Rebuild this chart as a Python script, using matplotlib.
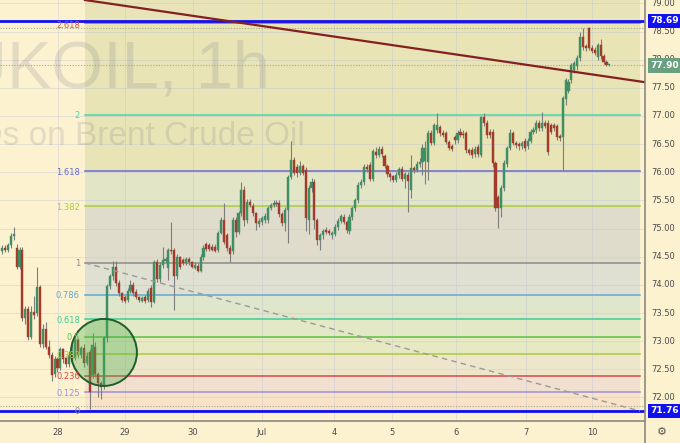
import numpy as np
import matplotlib
matplotlib.use("Agg")
import matplotlib.pyplot as plt
from matplotlib.patches import Ellipse
from matplotlib.lines import Line2D

plt.rcParams["font.family"] = ["DejaVu Sans"]

# hourly candles, UKOIL
opens = [74.60, 74.66, 74.62, 74.70, 74.86, 74.66, 74.32, 74.62, 73.42, 73.58,
         73.08, 73.52, 73.50, 73.96, 72.95, 73.22, 72.90, 72.76, 72.42, 72.68,
         72.52, 72.86, 72.70, 72.60, 72.76, 72.70, 73.02, 72.76, 72.88, 72.62,
         72.80, 72.40, 72.90, 72.42, 72.26, 72.20, 73.05, 73.98, 74.15, 74.32,
         74.03, 73.86, 73.78, 73.74, 73.90, 74.00, 73.88, 73.78, 73.72, 73.78,
         73.73, 73.95, 73.70, 74.41, 74.10, 74.35, 74.42, 74.30, 74.62, 74.62,
         74.15, 74.50, 74.45, 74.38, 74.46, 74.40, 74.30, 74.34, 74.25, 74.50,
         74.73, 74.70, 74.68, 74.68, 74.62, 74.92, 75.15, 74.88, 74.66, 74.60,
         75.15, 74.94, 75.27, 75.69, 75.15, 75.48, 75.40, 75.28, 75.08, 75.12,
         75.16, 75.15, 75.37, 75.42, 75.46, 75.46, 75.26, 75.10, 75.33, 75.92,
         76.22, 76.10, 75.99, 76.11, 76.04, 75.15, 75.72, 75.83, 75.15, 74.80,
         74.88, 74.98, 74.96, 74.88, 74.90, 75.03, 75.14, 75.20, 75.12, 74.95,
         75.20, 75.36, 75.51, 75.78, 75.83, 76.10, 76.13, 75.88, 76.36, 76.30,
         76.42, 76.29, 76.12, 75.97, 75.93, 75.87, 75.96, 76.06, 75.88, 75.95,
         75.69, 76.08, 76.04, 76.15, 76.18, 76.20, 76.18, 76.70, 76.52, 76.75,
         76.80, 76.70, 76.70, 76.54, 76.46, 76.62, 76.57, 76.72, 76.68, 76.70,
         76.40, 76.40, 76.32, 76.45, 76.30, 76.98, 76.88, 76.72, 76.72, 76.17,
         75.56, 75.37, 75.72, 76.15, 76.43, 76.70, 76.52, 76.50, 76.46, 76.55,
         76.46, 76.56, 76.72, 76.75, 76.88, 76.78, 76.88, 76.88, 76.84, 76.84,
         76.82, 76.64, 76.62, 77.30, 77.45, 77.64, 77.82, 77.88, 78.03, 78.40,
         78.24, 78.56, 78.21, 78.18, 78.05, 78.26, 78.06, 77.96, 77.90]
highs = [74.70, 74.70, 74.74, 74.92, 75.03, 74.72, 74.68, 74.68, 73.62, 73.62,
         73.62, 73.80, 74.32, 74.00, 73.30, 73.34, 73.02, 72.80, 72.74, 72.72,
         72.90, 72.88, 72.74, 72.82, 72.95, 73.08, 73.05, 72.92, 72.95, 72.80,
         72.86, 73.14, 72.98, 72.46, 72.30, 73.10, 74.02, 74.20, 74.42, 74.42,
         74.08, 73.88, 73.82, 73.95, 74.08, 74.05, 73.92, 73.80, 73.80, 73.82,
         73.95, 74.00, 74.45, 74.46, 74.40, 74.67, 74.50, 74.65, 75.12, 74.66,
         74.55, 74.52, 74.48, 74.50, 74.50, 74.42, 74.40, 74.38, 74.55, 74.70,
         74.76, 74.74, 74.72, 74.72, 74.96, 75.20, 75.45, 74.92, 74.70, 75.20,
         75.20, 75.32, 75.82, 75.75, 75.52, 75.52, 75.45, 75.30, 75.18, 75.22,
         75.28, 75.40, 75.46, 75.50, 75.50, 75.50, 75.30, 75.38, 75.96, 76.55,
         76.28, 76.15, 76.20, 76.15, 76.10, 75.78, 75.90, 75.88, 75.18, 74.92,
         75.00, 75.02, 75.00, 74.95, 75.08, 75.18, 75.26, 75.25, 75.15, 75.25,
         75.40, 75.55, 75.82, 75.88, 76.15, 76.15, 76.18, 76.42, 76.45, 76.46,
         76.46, 76.32, 76.15, 76.00, 75.96, 76.00, 76.10, 76.12, 76.00, 76.00,
         76.30, 76.12, 76.20, 76.25, 76.50, 76.55, 76.75, 76.75, 76.88, 77.05,
         76.84, 76.75, 76.74, 76.58, 76.50, 76.66, 76.75, 76.78, 76.75, 76.74,
         76.44, 76.45, 76.46, 76.50, 77.00, 77.05, 76.92, 76.76, 76.76, 76.20,
         75.60, 75.78, 76.22, 76.46, 76.76, 76.74, 76.56, 76.54, 76.56, 76.60,
         76.60, 76.76, 76.80, 76.92, 76.92, 77.07, 76.92, 76.92, 76.88, 76.88,
         76.86, 76.68, 77.36, 77.68, 77.65, 77.94, 77.98, 78.08, 78.50, 78.56,
         78.28, 78.58, 78.26, 78.22, 78.30, 78.36, 78.10, 78.00, 77.92]
lows = [74.55, 74.58, 74.58, 74.66, 74.80, 74.28, 74.28, 73.36, 73.30, 73.02,
        73.04, 73.40, 73.45, 72.90, 72.88, 72.86, 72.70, 72.30, 72.36, 72.46,
        72.48, 72.62, 72.55, 72.55, 72.62, 72.66, 72.70, 72.70, 72.55, 72.58,
        71.80, 72.35, 72.36, 72.00, 71.98, 72.15, 72.98, 73.92, 74.08, 73.98,
        73.80, 73.70, 73.68, 73.70, 73.86, 73.80, 73.75, 73.70, 73.70, 73.68,
        73.70, 73.61, 73.68, 74.05, 74.05, 74.30, 74.40, 74.08, 74.55, 73.55,
        74.10, 74.28, 74.35, 74.35, 74.36, 74.30, 74.28, 74.22, 74.22, 74.45,
        74.60, 74.60, 74.60, 74.58, 74.58, 74.90, 74.72, 74.60, 74.40, 74.55,
        74.85, 74.90, 75.22, 75.05, 75.10, 75.38, 75.22, 74.98, 75.02, 75.06,
        75.10, 75.10, 75.33, 75.38, 75.40, 75.20, 75.05, 74.95, 74.75, 75.88,
        75.95, 75.92, 75.95, 75.95, 74.95, 74.90, 75.65, 75.00, 74.70, 74.62,
        74.82, 74.90, 74.88, 74.82, 74.86, 74.98, 75.10, 75.08, 74.92, 74.90,
        75.15, 75.32, 75.45, 75.72, 75.78, 76.00, 75.84, 75.85, 76.26, 76.27,
        76.28, 76.08, 75.92, 75.85, 75.82, 75.82, 75.90, 75.85, 75.72, 75.29,
        75.55, 75.98, 76.00, 76.10, 75.95, 75.80, 75.86, 76.48, 76.48, 76.70,
        76.65, 76.62, 76.50, 76.40, 76.38, 76.50, 76.52, 76.62, 76.60, 76.35,
        76.30, 76.25, 76.28, 76.28, 76.28, 76.82, 76.60, 76.60, 76.10, 75.32,
        75.01, 75.20, 75.66, 76.10, 76.40, 76.48, 76.44, 76.40, 76.42, 76.38,
        76.42, 76.52, 76.68, 76.70, 76.74, 76.74, 76.78, 76.30, 76.68, 76.74,
        76.58, 76.56, 76.04, 77.20, 77.40, 77.58, 77.76, 77.82, 77.98, 78.18,
        78.16, 78.18, 78.12, 78.08, 78.00, 78.02, 77.93, 77.88, 77.88]
closes = [74.66, 74.62, 74.70, 74.86, 74.90, 74.32, 74.62, 73.42, 73.58, 73.08,
          73.52, 73.46, 73.96, 72.95, 73.22, 72.90, 72.76, 72.40, 72.68, 72.52,
          72.86, 72.68, 72.60, 72.76, 72.68, 73.02, 72.76, 72.88, 72.62, 72.74,
          72.10, 72.93, 72.42, 72.26, 72.18, 73.05, 73.98, 74.15, 74.32, 74.03,
          73.86, 73.74, 73.72, 73.90, 74.00, 73.85, 73.78, 73.73, 73.76, 73.72,
          73.90, 73.70, 74.41, 74.10, 74.35, 74.44, 74.46, 74.62, 74.60, 74.15,
          74.50, 74.32, 74.38, 74.46, 74.40, 74.32, 74.36, 74.25, 74.50, 74.66,
          74.64, 74.64, 74.62, 74.60, 74.92, 75.16, 74.76, 74.66, 74.55, 75.15,
          74.94, 75.27, 75.69, 75.15, 75.47, 75.42, 75.28, 75.10, 75.13, 75.18,
          75.22, 75.37, 75.42, 75.46, 75.44, 75.26, 75.10, 75.33, 75.92, 76.22,
          75.99, 75.99, 76.11, 75.99, 75.19, 75.72, 75.83, 75.15, 74.80, 74.88,
          74.95, 74.94, 74.92, 74.92, 75.03, 75.14, 75.22, 75.12, 74.97, 75.20,
          75.36, 75.51, 75.78, 75.83, 76.10, 76.05, 75.88, 76.38, 76.30, 76.42,
          76.32, 76.12, 75.97, 75.92, 75.87, 75.96, 76.06, 75.88, 75.97, 75.84,
          76.08, 76.04, 76.15, 76.18, 76.43, 76.43, 76.70, 76.52, 76.84, 76.84,
          76.70, 76.66, 76.54, 76.44, 76.42, 76.57, 76.70, 76.66, 76.66, 76.40,
          76.34, 76.30, 76.42, 76.32, 76.98, 76.88, 76.66, 76.66, 76.17, 75.37,
          75.37, 75.72, 76.17, 76.43, 76.70, 76.52, 76.48, 76.46, 76.52, 76.43,
          76.56, 76.72, 76.75, 76.88, 76.78, 76.88, 76.82, 76.36, 76.72, 76.78,
          76.62, 76.60, 77.32, 77.64, 77.60, 77.90, 77.94, 78.03, 78.40, 78.22,
          78.20, 78.21, 78.16, 78.12, 78.26, 78.06, 77.96, 77.91, 77.90]

# fibonacci extension: base 0 at 71.76, level 1 at 74.39
fib_low = 71.76
fib_high = 74.392
fib_levels = [0, 0.125, 0.236, 0.382, 0.5, 0.618, 0.786, 1, 1.382, 1.618, 2, 2.618]
fib_labels = ["0", "0.125", "0.236", "0.382", "0.5", "0.618", "0.786", "1", "1.382", "1.618", "2", "2.618"]
fib_colors = ["#8a8a8a", "#9c8fd6", "#e04545", "#a8cc3c", "#5cc040", "#3ccf94",
              "#5aaad8", "#8c8a86", "#a8cc3c", "#6a6ad0", "#4fd6a0", "#d9534f"]
band_colors = ["#f8e2c8", "#f1e0cf", "#eee6cb", "#e7e9c3", "#e3e8c6", "#e0e6cb",
               "#dfe0d1", "#e0dccb", "#e3e6c6", "#e8e4b6", "#e8e4b6", "#e8e4b8"]

# horizontal price lines / axis labels
blue_levels = [78.69, 71.76]
last_price = 77.90
dotted_levels = [78.57, 77.90, 71.84]
price_ticks = [79.0, 78.5, 78.0, 77.5, 77.0, 76.5, 76.0, 75.5, 75.0, 74.5, 74.0, 73.5, 73.0, 72.5, 72.0]
day_pos = [19.2, 42.1, 65.4, 89.0, 113.7, 133.6, 155.5, 179.5, 202.1]
day_labels = ["28", "29", "30", "Jul", "4", "5", "6", "7", "10"]

# drawing objects (index, price)
trend_red = [(28.4, 79.06), (220.2, 77.60)]
trend_dash = [(28.4, 74.39), (218.5, 71.76)]
circle_center = (34.9, 72.80)
circle_size = (22.6, 1.19)
fib_x = (28.4, 218.5)

bg = "#fdf2d0"
W, H = 680, 443
fig = plt.figure(figsize=(W / 100, H / 100), dpi=100, facecolor=bg)
ax = fig.add_axes([0, 22 / H, 645 / W, 421 / H], facecolor=bg)
ax.set_xlim(-0.685, 220.2)
ax.set_ylim(71.582, 79.06)
for s in ax.spines.values():
    s.set_visible(False)

# fib bands + lines
prices = [fib_low + (fib_high - fib_low) * f for f in fib_levels] + [80.0]
for i in range(len(band_colors)):
    ax.fill_between(fib_x, prices[i], prices[i + 1], color=band_colors[i], lw=0, zorder=0)
for p, lab, col in zip(prices[:-1], fib_labels, fib_colors):
    ax.plot(fib_x, [p, p], color=col, lw=1.1, zorder=2)
    dy = 0.04 if lab == "2.618" else 0.015
    ax.text(26.7, p - dy, lab, color=col, fontsize=6, ha="right", va="center", zorder=8)

# grid
for p in price_ticks:
    ax.axhline(p, color="#b8bfd8", lw=0.7, alpha=0.35, zorder=1)
for d in day_pos:
    ax.axvline(d, color="#b8bfd8", lw=0.7, alpha=0.35, zorder=1)

# watermark
wm_font = ["Liberation Sans", "DejaVu Sans"]
ax.text(270 / 645, (421 - 88) / 421, "UKOIL, 1h", transform=ax.transAxes, ha="right",
        va="baseline", fontsize=48, color="#787b86", alpha=0.2, family=wm_font, zorder=1)
ax.text(305 / 645, (421 - 145) / 421, "CFDs on Brent Crude Oil", transform=ax.transAxes,
        ha="right", va="baseline", fontsize=24, color="#787b86", alpha=0.2, family=wm_font, zorder=1)

# horizontal lines
for p in dotted_levels:
    ax.axhline(p, color="#a8a890", lw=0.8, ls=(0, (1, 1.5)), zorder=2)
for p in blue_levels:
    ax.axhline(p, color="#1010f0", lw=2, zorder=3)

# candles
o = np.array(opens)
h = np.array(highs)
l = np.array(lows)
c = np.array(closes)
x = np.arange(len(o))
up = c >= o
cols = np.where(up, "#3f8f65", "#a23b2a")
ax.vlines(x, l, h, color="#7d7d7d", lw=0.8, zorder=4)
ax.bar(x, np.maximum(np.abs(c - o), 0.02), bottom=np.minimum(o, c), width=0.72,
       color=cols, edgecolor=cols, lw=0.3, zorder=5)

# drawings
ax.plot(*zip(*trend_red), color="#862020", lw=1.6, zorder=6)
ax.plot(*zip(*trend_dash), color="#9a9a9a", lw=1, ls=(0, (4, 3)), zorder=6)
ax.add_patch(Ellipse(circle_center, circle_size[0], circle_size[1], facecolor="#4caf50",
                     alpha=0.35, edgecolor="none", zorder=7))
ax.add_patch(Ellipse(circle_center, circle_size[0], circle_size[1], facecolor="none",
                     edgecolor="#1e5e2a", lw=1.4, zorder=7))

# axes borders
fig.add_artist(Line2D([645 / W, 645 / W], [0, 1], color="#8a8a80", lw=1.2))
fig.add_artist(Line2D([0, 645 / W], [22 / H, 22 / H], color="#8a8a80", lw=1.2))

# price scale
ytr = ax.get_yaxis_transform()
for p in price_ticks:
    ax.text(1.009, p, f"{p:.2f}", transform=ytr, fontsize=6, color="#4a4a4a",
            ha="left", va="center", clip_on=False, zorder=8)
for p in blue_levels:
    ax.text(1.009, p, f"{p:.2f}", transform=ytr, fontsize=6.5, color="white", weight="bold",
            ha="left", va="center", clip_on=False, zorder=9,
            bbox=dict(boxstyle="square,pad=0.3", fc="#1010f0", ec="none"))
ax.text(1.009, last_price, f"{last_price:.2f}", transform=ytr, fontsize=6.5, color="white",
        weight="bold", ha="left", va="center", clip_on=False, zorder=9,
        bbox=dict(boxstyle="square,pad=0.3", fc="#6a9f80", ec="none"))

# time scale
ax.set_yticks([])
ax.set_xticks(day_pos)
ax.set_xticklabels(day_labels, fontsize=6, color="#4a4a4a")
ax.tick_params(axis="x", length=0, pad=5)
fig.text(662 / W, 1 - 432 / H, "\u2699", fontsize=8, color="#555555", ha="center", va="center")

fig.savefig("out.png", dpi=100, facecolor=bg)
